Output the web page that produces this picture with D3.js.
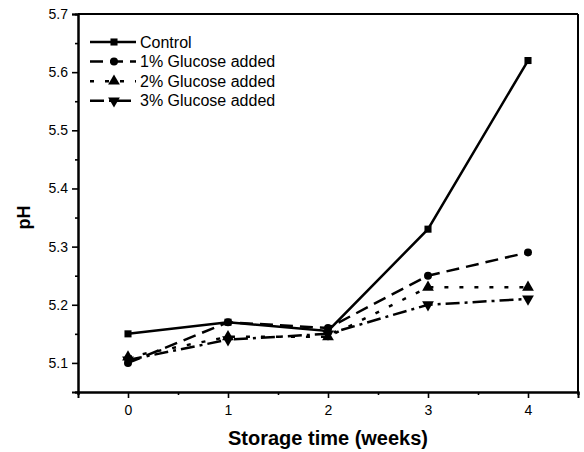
<!DOCTYPE html>
<html>
<head>
<meta charset="utf-8">
<script src="https://cdn.jsdelivr.net/npm/d3@7"></script>
<style>
  body { margin: 0; background: #fff; }
  text { font-family: "Liberation Sans", Arial, sans-serif; fill: #000; }
</style>
</head>
<body>
<div id="chart"></div>
<script>
// Chart data
// ==========
var weeks = [0, 1, 2, 3, 4];
var seriesNames = ["Control", "1% Glucose added", "2% Glucose added", "3% Glucose added"];
var control = [5.15, 5.17, 5.155, 5.33, 5.62];
var glucose1 = [5.10, 5.17, 5.16, 5.25, 5.29];
var glucose2 = [5.11, 5.145, 5.145, 5.23, 5.23];
var glucose3 = [5.105, 5.14, 5.15, 5.20, 5.21];
var yTicks = [5.1, 5.2, 5.3, 5.4, 5.5, 5.6, 5.7];

var allSeries = [control, glucose1, glucose2, glucose3];
var dashes = [null, "13,7", "4,11", "14,5,3,5"];
var symbols = [d3.symbolSquare, d3.symbolCircle, d3.symbolTriangle, "down"];

// SVG dimensions
var svgWidth = 584, svgHeight = 452;
var margin = { top: 14, right: 6, bottom: 60, left: 78 };
var chartWidth = svgWidth - margin.left - margin.right;
var chartHeight = svgHeight - margin.top - margin.bottom;

var svg = d3.select("#chart").append("svg")
    .attr("width", svgWidth)
    .attr("height", svgHeight);

var chartGroup = svg.append("g")
    .attr("transform", `translate(${margin.left}, ${margin.top})`);

// Scales
var xScale = d3.scaleLinear().domain([-0.5, 4.5]).range([0, chartWidth]);
var yScale = d3.scaleLinear().domain([5.05, 5.7]).range([chartHeight, 0]);

// Axes
var bottomAxis = d3.axisBottom(xScale).tickValues(weeks).tickSize(6).tickPadding(7)
    .tickFormat(d3.format("d"));
var bottomMinor = d3.axisBottom(xScale).tickValues([-0.5, 0.5, 1.5, 2.5, 3.5, 4.5]).tickSize(3).tickFormat("");
var leftAxis = d3.axisLeft(yScale).tickValues(yTicks).tickSize(6).tickPadding(4)
    .tickFormat(d3.format(".1f"));
var leftMinor = d3.axisLeft(yScale).tickValues([5.05, 5.15, 5.25, 5.35, 5.45, 5.55, 5.65]).tickSize(3).tickFormat("");

function styleAxis(g) {
    g.select(".domain").attr("stroke-width", 2);
    g.selectAll(".tick line").attr("stroke-width", 1.6);
    g.selectAll(".tick text").style("font-size", "14px").attr("fill", "#000");
}

chartGroup.append("g").attr("transform", `translate(0, ${chartHeight})`).call(bottomMinor).call(styleAxis);
chartGroup.append("g").attr("transform", `translate(0, ${chartHeight})`).call(bottomAxis).call(styleAxis);
chartGroup.append("g").call(leftMinor).call(styleAxis);
chartGroup.append("g").call(leftAxis).call(styleAxis);

// Top and right frame
chartGroup.append("line")
    .attr("x1", 0).attr("x2", chartWidth).attr("y1", 0).attr("y2", 0)
    .attr("stroke", "#000").attr("stroke-width", 2);
chartGroup.append("line")
    .attr("x1", chartWidth).attr("x2", chartWidth).attr("y1", 0).attr("y2", chartHeight)
    .attr("stroke", "#000").attr("stroke-width", 2);

// Axis labels
chartGroup.append("text")
    .attr("x", xScale(2))
    .attr("y", chartHeight + 53)
    .attr("text-anchor", "middle")
    .style("font-size", "20px")
    .style("font-weight", "bold")
    .text("Storage time (weeks)");

chartGroup.append("text")
    .attr("transform", `translate(-48, ${yScale(5.35)}) rotate(-90)`)
    .attr("text-anchor", "middle")
    .style("font-size", "18px")
    .style("font-weight", "bold")
    .text("pH");

// Marker helper
function drawMarker(g, type, x, y) {
    if (type === "down") {
        g.append("path")
            .attr("d", d3.symbol().type(d3.symbolTriangle).size(60)())
            .attr("transform", `translate(${x}, ${y}) rotate(180)`);
    } else {
        g.append("path")
            .attr("d", d3.symbol().type(type).size(type === d3.symbolTriangle ? 60 : 50)())
            .attr("transform", `translate(${x}, ${y})`);
    }
}

// Lines
var line = d3.line()
    .x((d, i) => xScale(weeks[i]))
    .y(d => yScale(d));

allSeries.forEach((values, s) => {
    chartGroup.append("path")
        .datum(values)
        .attr("d", line)
        .attr("fill", "none")
        .attr("stroke", "#000")
        .attr("stroke-width", 2.5)
        .attr("stroke-dasharray", dashes[s]);

    var markers = chartGroup.append("g").attr("fill", "#000");
    values.forEach((v, i) => drawMarker(markers, symbols[s], xScale(weeks[i]), yScale(v)));
});

// Legend
var legend = chartGroup.append("g").attr("transform", "translate(12, 28)");
seriesNames.forEach((name, s) => {
    var row = legend.append("g").attr("transform", `translate(0, ${s * 19.6})`);
    row.append("line")
        .attr("x1", 0).attr("x2", 46).attr("y1", 0).attr("y2", 0)
        .attr("stroke", "#000").attr("stroke-width", 2.5)
        .attr("stroke-dasharray", dashes[s]);
    drawMarker(row.append("g").attr("fill", "#000"), symbols[s], 24, 0);
    row.append("text")
        .attr("x", 50)
        .attr("y", 5.5)
        .style("font-size", "16px")
        .text(name);
});
</script>
</body>
</html>
